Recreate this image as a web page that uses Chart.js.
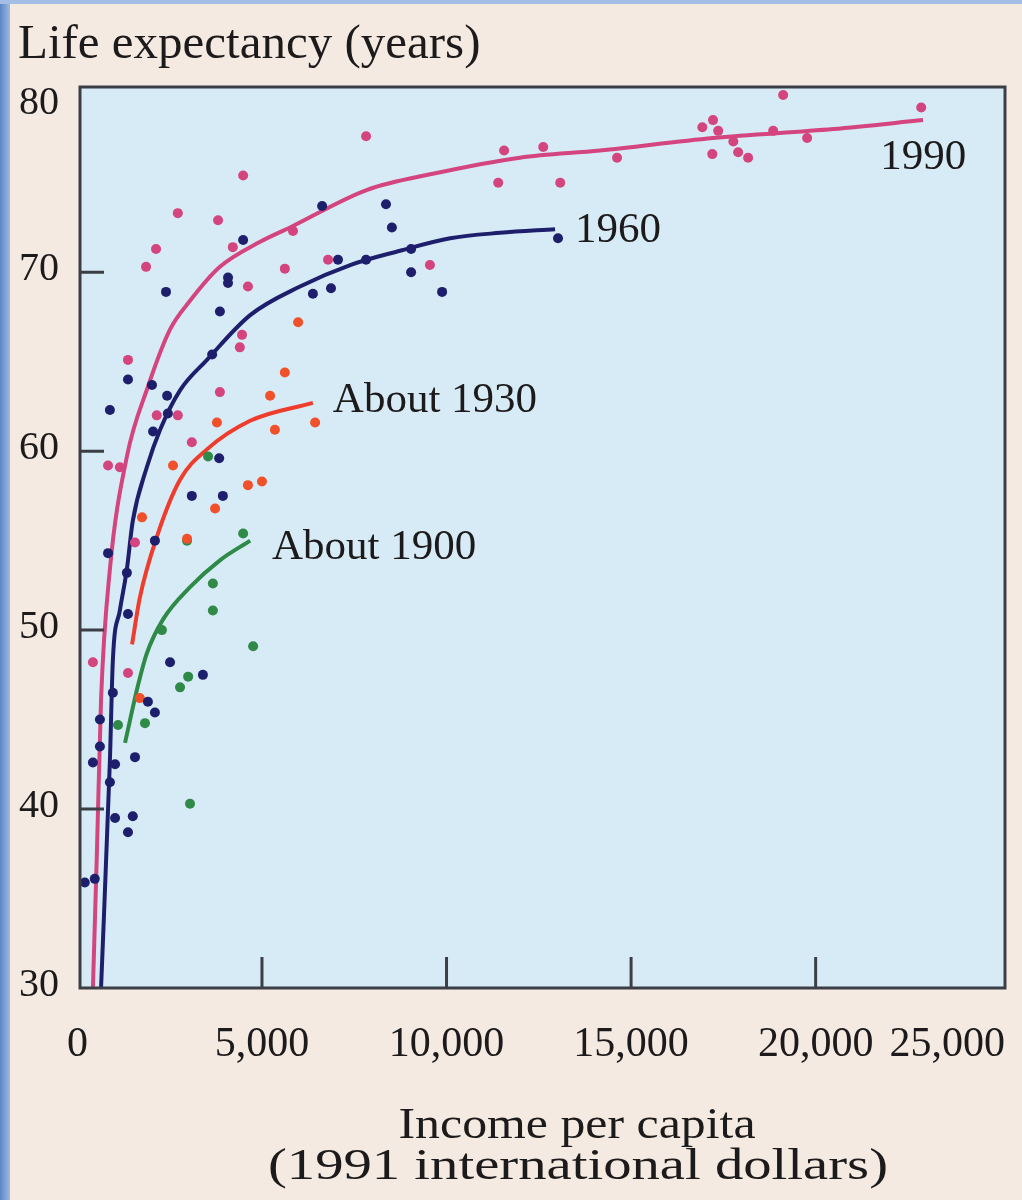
<!DOCTYPE html>
<html>
<head>
<meta charset="utf-8">
<script src="https://cdn.jsdelivr.net/npm/chart.js@4.4.0/dist/chart.umd.min.js"></script>
<style>
  html, body { margin: 0; padding: 0; }
  body { width: 1022px; height: 1200px; background: #f4eae2; position: relative; overflow: hidden; }
  #edge { position: absolute; left: 0; top: 0; width: 10px; height: 1200px; background: linear-gradient(to right, #5d86c6, #9cbae3); }
  #topedge { position: absolute; left: 0; top: 0; width: 1022px; height: 4px; background: #a3bfe5; }
  canvas { position: absolute; left: 0; top: 0; }
</style>
</head>
<body>
<div id="edge"></div>
<div id="topedge"></div>
<canvas id="chart" width="1022" height="1200"></canvas>
<script>
// tick values
const xTicks = [0, 5000, 10000, 15000, 20000, 25000];
const yTicks = [30, 40, 50, 60, 70, 80];

// scattered countries, [income, life expectancy]
const dots1990 = [
    [420, 48.2], [1370, 47.6], [830, 59.2], [1150, 59.1], [1560, 54.9], [1370, 65.1],
    [2150, 62.0], [2720, 62.0], [3100, 60.5], [3860, 63.3], [4460, 66.5], [4400, 65.8],
    [4620, 69.2], [1860, 70.3], [2130, 71.3], [2720, 73.3], [3810, 72.9], [4490, 75.4],
    [4210, 71.4], [5840, 72.3], [5620, 70.2], [6790, 70.7], [7820, 77.6], [9550, 70.4],
    [11560, 76.8], [11400, 75.0], [12620, 77.0], [13080, 75.0], [14620, 76.4], [16930, 78.1],
    [17220, 78.5], [17360, 77.9], [17200, 76.6], [17770, 77.3], [17900, 76.7], [18170, 76.4],
    [18850, 77.9], [19120, 79.9], [19770, 77.5], [22860, 79.2]
];
const dots1960 = [
    [200, 35.9], [470, 36.1], [1370, 38.7], [1020, 39.5], [1500, 39.6], [880, 41.5],
    [420, 42.6], [1020, 42.5], [1560, 42.9], [610, 45.0], [2100, 45.4], [1910, 46.0],
    [2510, 48.2], [3400, 47.5], [1370, 50.9], [1340, 53.2], [830, 54.3], [2100, 55.0],
    [3940, 57.5], [3100, 57.5], [3840, 59.6], [2050, 61.1], [2450, 62.1], [880, 62.3],
    [2430, 63.1], [2020, 63.7], [1370, 64.0], [3650, 65.4], [3860, 67.8], [2400, 68.9],
    [4080, 69.7], [4080, 69.4], [4490, 71.8], [6380, 68.8], [6870, 69.1], [6630, 73.7],
    [7060, 70.7], [7820, 70.7], [8360, 73.8], [8520, 72.5], [9040, 71.3], [9040, 70.0],
    [9880, 68.9], [13020, 71.9], [610, 43.5], [960, 46.5]
];
const dots1930 = [
    [1690, 46.2], [2970, 55.1], [1750, 56.3], [3730, 56.8], [4620, 58.1], [5000, 58.3],
    [2590, 59.2], [3780, 61.6], [5350, 61.2], [6440, 61.6], [5220, 63.1], [5620, 64.4],
    [5980, 67.2]
];
const dots1900 = [
    [1100, 44.7], [1830, 44.8], [2780, 46.8], [3000, 47.4], [2290, 50.0], [3670, 51.1],
    [3670, 52.6], [3540, 59.7], [2970, 55.0], [4490, 55.4], [4760, 49.1], [3050, 40.3]
];

// fitted curves
const line1990 = [
    [420, 30], [530, 37.7], [640, 46.1], [880, 53.4], [1340, 59.7], [1910, 63.6],
    [2510, 66.8], [3050, 68.4], [3860, 70.3], [4950, 71.7], [5760, 72.5], [7850, 74.6],
    [9630, 75.5], [11990, 76.4], [14160, 76.8], [17220, 77.5], [20480, 78.0], [22910, 78.5]
];
const line1960 = [
    [640, 30], [880, 42.7], [960, 48.3], [1150, 51.1], [1340, 53.4], [1500, 56.1],
    [1880, 59.1], [2240, 61.2], [2780, 63.4], [3510, 65.1], [4680, 67.6], [6030, 69.2],
    [7390, 70.4], [8740, 71.2], [10100, 71.9], [11450, 72.2], [12940, 72.4]
];
const line1930 = [[1480, 49.2], [1690, 51.8], [2150, 55.2], [2780, 58.4], [3510, 60.1], [4680, 61.7], [6380, 62.7]];
const line1900 = [[1290, 43.7], [1640, 46.9], [1880, 48.7], [2320, 50.6], [3050, 52.4], [3860, 53.9], [4680, 55.0]];

// curve labels and where they sit (data coords, left edge / middle)
const curveNames = ['1990', '1960', 'About 1930', 'About 1900'];
const curveNameAt = [[21750, 76.4], [13480, 72.3], [6920, 62.8], [5270, 54.6]];

// x axis title, two lines
const xTitle = ['Income per capita', '(1991 international dollars)'];

const pink = '#d4447f', navy = '#1d1f6c', orange = '#f0502a', red = '#ee3d2c', green = '#2f8a48';
const serif = "'Liberation Serif', 'DejaVu Serif', serif";
const ink = '#1c1a1a';

const toXY = arr => arr.map(p => ({ x: p[0], y: p[1] }));

function curve(data, color) {
    return {
        data: toXY(data),
        showLine: true,
        borderColor: color,
        borderWidth: 4,
        pointRadius: 0,
        cubicInterpolationMode: 'monotone',
        order: 2
    };
}

function dots(data, color) {
    return {
        data: toXY(data),
        showLine: false,
        backgroundColor: color,
        borderWidth: 0,
        pointRadius: 5,
        order: 1
    };
}

// draws text centred at cx, stretched sideways to the given width
function wideText(ctx, txt, cx, cy, width) {
    const w = ctx.measureText(txt).width;
    ctx.save();
    ctx.translate(cx, cy);
    ctx.scale(width / w, 1);
    ctx.textAlign = 'center';
    ctx.fillText(txt, 0, 0);
    ctx.restore();
}

const frame = {
    id: 'frame',
    beforeDatasetsDraw(chart) {
        const { ctx, chartArea: a } = chart;
        ctx.save();
        ctx.fillStyle = '#d7ebf6';
        ctx.fillRect(a.left, a.top, a.right - a.left, a.bottom - a.top);
        ctx.restore();
    },
    afterDatasetsDraw(chart) {
        const { ctx, chartArea: a, scales } = chart;
        const xs = scales.x, ys = scales.y;
        ctx.save();
        ctx.strokeStyle = '#3b3f45';
        ctx.lineWidth = 3;
        ctx.strokeRect(a.left, a.top, a.right - a.left, a.bottom - a.top);

        // inward tick marks
        ctx.beginPath();
        xTicks.slice(1, -1).forEach(v => {
            const px = xs.getPixelForValue(v);
            ctx.moveTo(px, a.bottom);
            ctx.lineTo(px, a.bottom - 31);
        });
        yTicks.slice(1, -1).forEach(v => {
            const py = ys.getPixelForValue(v);
            ctx.moveTo(a.left, py);
            ctx.lineTo(a.left + 24, py);
        });
        ctx.stroke();

        ctx.fillStyle = ink;
        // y labels
        ctx.font = '40px ' + serif;
        ctx.textAlign = 'right';
        ctx.textBaseline = 'middle';
        yTicks.forEach(v => {
            const py = Math.max(ys.getPixelForValue(v) - 3, a.top + 16);
            ctx.fillText(String(v), a.left - 21, py);
        });
        // x labels
        ctx.font = '42px ' + serif;
        xTicks.forEach(v => {
            const txt = v.toLocaleString('en-US');
            const w = ctx.measureText(txt).width;
            let px = xs.getPixelForValue(v) - w / 2;
            if (px + w > a.right) px = a.right - w;
            ctx.textAlign = 'left';
            ctx.fillText(txt, px, 1045);
        });

        // titles
        ctx.font = '49px ' + serif;
        ctx.textAlign = 'left';
        ctx.fillText('Life expectancy (years)', 18, 45);
        ctx.font = '44px ' + serif;
        wideText(ctx, xTitle[0], 577, 1126, 357);
        wideText(ctx, xTitle[1], 578, 1167, 620);

        // curve names
        ctx.font = '43px ' + serif;
        ctx.textAlign = 'left';
        curveNames.forEach((t, i) => {
            ctx.fillText(t, xs.getPixelForValue(curveNameAt[i][0]), ys.getPixelForValue(curveNameAt[i][1]));
        });
        ctx.restore();
    }
};

new Chart(document.getElementById('chart'), {
    type: 'scatter',
    data: {
        datasets: [
            curve(line1990, pink),
            curve(line1960, navy),
            curve(line1930, red),
            curve(line1900, green),
            dots(dots1990, pink),
            dots(dots1960, navy),
            dots(dots1930, orange),
            dots(dots1900, green)
        ]
    },
    options: {
        responsive: false,
        animation: false,
        devicePixelRatio: 1,
        layout: { padding: { left: 80, top: 87, right: 17, bottom: 212 } },
        scales: {
            x: { type: 'linear', min: 70, max: 25130, display: false },
            y: { type: 'linear', min: 30, max: 80.35, display: false }
        },
        plugins: {
            legend: { display: false },
            tooltip: { enabled: false }
        }
    },
    plugins: [frame]
});
</script>
</body>
</html>
